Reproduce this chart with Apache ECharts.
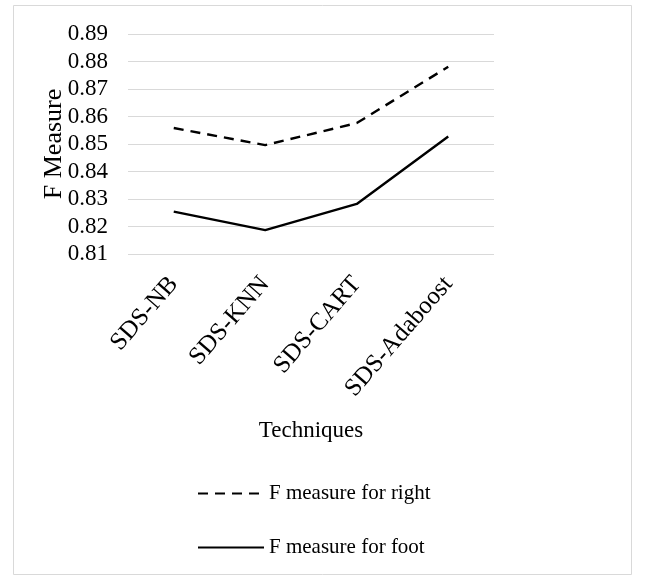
<!DOCTYPE html>
<html><head><meta charset="utf-8">
<script src="https://cdn.jsdelivr.net/npm/echarts@6/dist/echarts.min.js"></script>
<style>html,body{margin:0;padding:0;background:#fff}#c{width:645px;height:576px}</style>
</head><body><div id="c"></div>
<script>
const categories = ['SDS-NB', 'SDS-KNN', 'SDS-CART', 'SDS-Adaboost'];
const rightValues = [0.8558, 0.8496, 0.8576, 0.8781];
const footValues = [0.8254, 0.8187, 0.8282, 0.8527];
const seriesNames = ['F measure for right', 'F measure for foot'];
const font = 'Liberation Serif';
const chart = echarts.init(document.getElementById('c'));
chart.setOption({
  animation: false,
  backgroundColor: '#fff',
  graphic: [{type: 'rect', shape: {x: 13.5, y: 5.5, width: 618, height: 569}, style: {fill: 'none', stroke: '#d9d9d9', lineWidth: 1}}],
  grid: {left: 128, right: 151, top: 34, bottom: 322},
  legend: {
    orient: 'vertical', left: 192, top: 478, itemGap: 33, itemWidth: 66, itemHeight: 24,
    itemStyle: {opacity: 0},
    textStyle: {fontFamily: font, fontSize: 21, color: '#000'},
    data: seriesNames
  },
  xAxis: {
    type: 'category', data: categories, boundaryGap: true,
    axisLine: {show: false}, axisTick: {show: false},
    axisLabel: {rotate: 49, fontFamily: font, fontSize: 25, color: '#000', margin: 26, interval: 0},
    name: 'Techniques', nameLocation: 'middle', nameGap: 165, nameMoveOverlap: false,
    nameTextStyle: {fontFamily: font, fontSize: 23, color: '#000'}
  },
  yAxis: {
    type: 'value', min: 0.81, max: 0.89, interval: 0.01,
    axisLine: {show: false}, axisTick: {show: false},
    splitLine: {lineStyle: {color: '#d9d9d9', width: 1}},
    axisLabel: {fontFamily: font, fontSize: 23, color: '#000', margin: 20, formatter: v => v.toFixed(2)},
    name: 'F Measure', nameLocation: 'middle', nameGap: 61, nameMoveOverlap: false,
    nameTextStyle: {fontFamily: font, fontSize: 26, color: '#000'}
  },
  series: [
    {name: seriesNames[0], type: 'line', data: rightValues, symbol: 'none',
     lineStyle: {color: '#000', width: 2.4, type: [10, 7]}, itemStyle: {color: '#000'}},
    {name: seriesNames[1], type: 'line', data: footValues, symbol: 'none',
     lineStyle: {color: '#000', width: 2.4, type: 'solid'}, itemStyle: {color: '#000'}}
  ]
});
</script></body></html>
